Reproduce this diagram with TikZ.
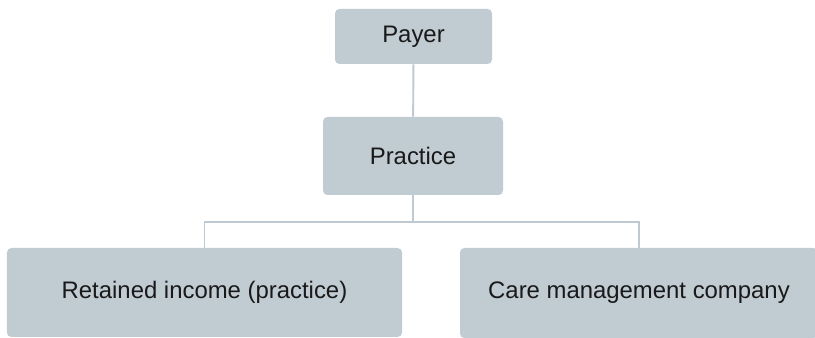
\documentclass[tikz,border=0pt]{standalone}
\usepackage{fontspec}
\setmainfont{Liberation Sans}
\usepackage{tikz}

\definecolor{boxgrey}{RGB}{193,203,210}
\definecolor{linkgrey}{RGB}{190,201,209}

\tikzset{
  orgbox/.style={fill=boxgrey, rounded corners=2.5pt, inner sep=0pt,
    text=black!90, font=\fontsize{13.6}{16}\selectfont},
  orglink/.style={draw=linkgrey, line width=1.1pt}
}

\begin{document}
\begin{tikzpicture}
   \useasboundingbox (0,0) rectangle (16.3,6.76);

   % top of the chart
   \node[orgbox, minimum width=3.14cm, minimum height=1.10cm] (payer) at (8.27,6.03) {Payer};
   \node[orgbox, minimum width=3.60cm, minimum height=1.56cm] (practice) at (8.26,3.64) {Practice};

   % the two branches
   \node[orgbox, minimum width=7.90cm, minimum height=1.78cm] (retained) at (4.09,0.91) {Retained income (practice)};
   \node[orgbox, minimum width=7.16cm, minimum height=1.80cm] (caremgmt) at (12.78,0.90) {Care management company};

   \coordinate (split) at (8.26,2.32);

   \draw[orglink] (payer) -- (practice);
   \draw[orglink] (practice) -- (split);
   \draw[orglink] (split) -| (retained.north);
   \draw[orglink] (split) -| (caremgmt.north);
\end{tikzpicture}
\end{document}
